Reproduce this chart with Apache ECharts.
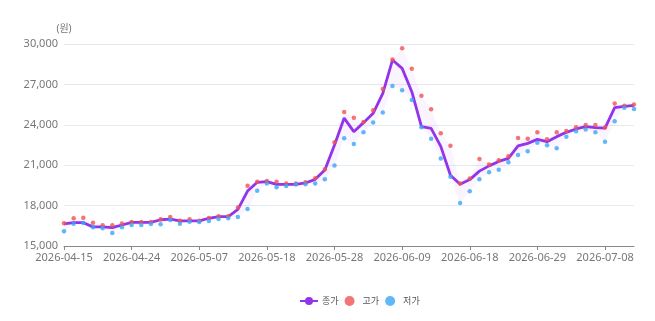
<!DOCTYPE html>
<html>
<head>
<meta charset="utf-8">
<script src="https://cdn.jsdelivr.net/npm/echarts@6/dist/echarts.min.js"></script>
<style>html,body{margin:0;padding:0;background:#fff}#c{width:655px;height:321px}</style>
</head>
<body>
<div id="c"></div>
<script>
const dates = ['2026-04-15','2026-04-16','2026-04-17','2026-04-20','2026-04-21','2026-04-22','2026-04-23','2026-04-24','2026-04-27','2026-04-28','2026-04-29','2026-04-30','2026-05-04','2026-05-06','2026-05-07','2026-05-08','2026-05-11','2026-05-12','2026-05-13','2026-05-14','2026-05-15','2026-05-18','2026-05-19','2026-05-20','2026-05-21','2026-05-22','2026-05-26','2026-05-27','2026-05-28','2026-05-29','2026-06-01','2026-06-02','2026-06-04','2026-06-05','2026-06-08','2026-06-09','2026-06-10','2026-06-11','2026-06-12','2026-06-15','2026-06-16','2026-06-17','2026-06-18','2026-06-19','2026-06-22','2026-06-23','2026-06-24','2026-06-25','2026-06-26','2026-06-29','2026-06-30','2026-07-01','2026-07-02','2026-07-03','2026-07-06','2026-07-07','2026-07-08','2026-07-09','2026-07-10','2026-07-13'];
const closeVals = [16640,16730,16730,16420,16420,16370,16560,16760,16760,16760,16950,17000,16860,16860,16860,17060,17180,17180,17720,19080,19730,19780,19580,19580,19580,19680,19950,20640,22500,24500,23490,24160,24850,26340,28810,28190,26460,23860,23740,22400,20250,19580,19930,20560,20950,21280,21510,22430,22620,22920,22750,23120,23440,23690,23860,23790,23760,25270,25370,25450];
const highVals = [16690,17060,17100,16730,16540,16540,16680,16780,16780,16790,16980,17150,16880,16980,16880,17080,17200,17200,17850,19480,19780,19830,19780,19650,19650,19730,20030,20700,22700,24950,24520,24200,25080,26660,28840,29680,28160,26160,25160,23370,22450,19650,20020,21460,21050,21360,21660,23020,22970,23440,22920,23440,23540,23810,23990,23990,23800,25590,25420,25500];
const lowVals = [16090,16660,16700,16390,16310,15970,16390,16560,16560,16630,16610,16930,16660,16810,16780,16860,17000,17060,17150,17750,19110,19650,19360,19460,19560,19580,19650,19950,20970,23000,22580,23450,24170,24910,26880,26560,25840,23810,22970,21500,20150,18200,19060,19950,20480,20670,21210,21760,22030,22670,22480,22250,23120,23520,23660,23440,22750,24260,25270,25170];
const yTicks = {min: 15000, max: 30000, interval: 3000};
const seriesNames = ['종가', '고가', '저가'];

const rangeVals = highVals.map((h, i) => h - lowVals[i]);
const FONT = "'Noto Sans', 'Noto Sans CJK KR', sans-serif";

const chart = echarts.init(document.getElementById('c'), null, {renderer: 'canvas'});
chart.setOption({
  animation: false,
  textStyle: {fontFamily: FONT},
  grid: {left: 64, right: 21, top: 44, bottom: 75},
  legend: {
    data: [
      {name: seriesNames[0]},
      {name: seriesNames[1], icon: 'circle'},
      {name: seriesNames[2], icon: 'circle'}
    ],
    left: 294, top: 291,
    itemWidth: 18, itemHeight: 10, itemGap: 6,
    textStyle: {fontSize: 9, color: '#555', fontFamily: FONT, padding: [0, 0, 0, -1]}
  },
  xAxis: {
    type: 'category',
    data: dates,
    boundaryGap: false,
    axisLine: {lineStyle: {color: '#888', width: 1}},
    axisTick: {interval: 6, length: 4, lineStyle: {color: '#888'}},
    axisLabel: {interval: 6, color: '#777', fontSize: 11, margin: 6, fontFamily: FONT},
    splitLine: {show: false}
  },
  yAxis: {
    type: 'value',
    min: yTicks.min, max: yTicks.max, interval: yTicks.interval,
    name: '(원)',
    nameLocation: 'end',
    nameGap: 10,
    nameTextStyle: {color: '#777', fontSize: 10, align: 'center', fontFamily: FONT},
    axisLine: {show: false},
    axisTick: {show: false},
    axisLabel: {color: '#777', fontSize: 11, margin: 6, fontFamily: FONT,
      formatter: v => v.toLocaleString('en-US')},
    splitLine: {lineStyle: {color: '#e6e9f2', width: 1}}
  },
  series: [
    {
      name: 'bandBase', type: 'line', data: lowVals, stack: 'band',
      symbol: 'none', lineStyle: {opacity: 0}, silent: true, z: 1
    },
    {
      name: 'band', type: 'line', data: rangeVals, stack: 'band',
      symbol: 'none', lineStyle: {opacity: 0},
      areaStyle: {color: 'rgba(147, 51, 234, 0.08)'}, silent: true, z: 1
    },
    {
      name: seriesNames[0], type: 'line', data: closeVals,
      symbol: 'circle', symbolSize: 7, showSymbol: false,
      itemStyle: {color: '#9333ea'},
      lineStyle: {color: '#9333ea', width: 2.8},
      z: 3
    },
    {
      name: seriesNames[1], type: 'scatter', data: highVals,
      symbolSize: 4.5, itemStyle: {color: '#f05252'}, z: 4
    },
    {
      name: seriesNames[2], type: 'scatter', data: lowVals,
      symbolSize: 4.5, itemStyle: {color: '#3aa6f7'}, z: 4
    }
  ]
});
</script>
</body>
</html>
